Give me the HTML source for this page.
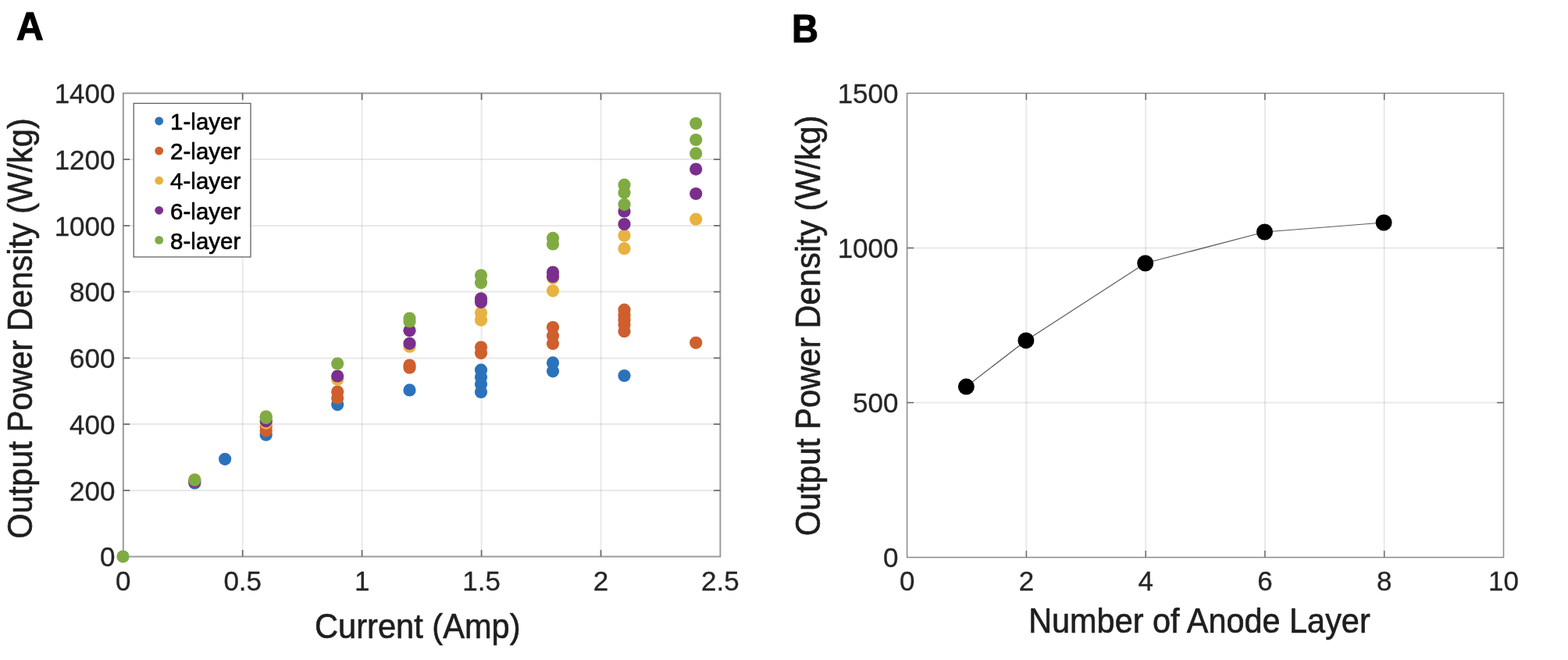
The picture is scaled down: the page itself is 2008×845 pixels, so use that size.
<!DOCTYPE html>
<html lang="en">
<head>
<meta charset="utf-8">
<title>Output power density figure</title>
<style>
html,body{margin:0;padding:0;background:#fff;}
body{width:2008px;height:845px;overflow:hidden;}
svg{display:block;}
text{font-family:"Liberation Sans",Arial,Helvetica,sans-serif;}
.tick{font-size:35px;fill:#262626;stroke:#262626;stroke-width:0.3px;}
.lab{font-size:41.6px;fill:#1e1e1e;stroke:#1e1e1e;stroke-width:0.6px;}
.leg{font-size:29.5px;fill:#000;stroke:#000;stroke-width:0.6px;}
.panel{font-size:50px;font-weight:bold;fill:#000;stroke:#000;stroke-width:1.2px;}
.grid line{stroke:#000;stroke-opacity:0.085;stroke-width:2;}
.axA{stroke:#979797;stroke-width:1.9;fill:none;}
.axB{stroke:#8a8a8a;stroke-width:1.5;fill:none;}
.tkA line{stroke:#6a6a6a;stroke-width:1.7;}
.tkB line{stroke:#6a6a6a;stroke-width:1.5;}
</style>
</head>
<body>
<svg width="2008" height="845" viewBox="0 0 2008 845">
<rect x="0" y="0" width="2008" height="845" fill="#ffffff"/>

<g class="grid">
<line x1="310.7" y1="119.4" x2="310.7" y2="712.6"/>
<line x1="463.6" y1="119.4" x2="463.6" y2="712.6"/>
<line x1="616.6" y1="119.4" x2="616.6" y2="712.6"/>
<line x1="769.5" y1="119.4" x2="769.5" y2="712.6"/>
<line x1="157.8" y1="627.9" x2="922.4" y2="627.9"/>
<line x1="157.8" y1="543.1" x2="922.4" y2="543.1"/>
<line x1="157.8" y1="458.4" x2="922.4" y2="458.4"/>
<line x1="157.8" y1="373.6" x2="922.4" y2="373.6"/>
<line x1="157.8" y1="288.9" x2="922.4" y2="288.9"/>
<line x1="157.8" y1="204.1" x2="922.4" y2="204.1"/>
</g>
<rect class="axA" x="157.8" y="119.4" width="764.6" height="593.2"/>
<g class="tkA">
<line x1="310.7" y1="712.6" x2="310.7" y2="704.1"/>
<line x1="310.7" y1="119.4" x2="310.7" y2="127.9"/>
<line x1="463.6" y1="712.6" x2="463.6" y2="704.1"/>
<line x1="463.6" y1="119.4" x2="463.6" y2="127.9"/>
<line x1="616.6" y1="712.6" x2="616.6" y2="704.1"/>
<line x1="616.6" y1="119.4" x2="616.6" y2="127.9"/>
<line x1="769.5" y1="712.6" x2="769.5" y2="704.1"/>
<line x1="769.5" y1="119.4" x2="769.5" y2="127.9"/>
<line x1="157.8" y1="627.9" x2="166.3" y2="627.9"/>
<line x1="922.4" y1="627.9" x2="913.9" y2="627.9"/>
<line x1="157.8" y1="543.1" x2="166.3" y2="543.1"/>
<line x1="922.4" y1="543.1" x2="913.9" y2="543.1"/>
<line x1="157.8" y1="458.4" x2="166.3" y2="458.4"/>
<line x1="922.4" y1="458.4" x2="913.9" y2="458.4"/>
<line x1="157.8" y1="373.6" x2="166.3" y2="373.6"/>
<line x1="922.4" y1="373.6" x2="913.9" y2="373.6"/>
<line x1="157.8" y1="288.9" x2="166.3" y2="288.9"/>
<line x1="922.4" y1="288.9" x2="913.9" y2="288.9"/>
<line x1="157.8" y1="204.1" x2="166.3" y2="204.1"/>
<line x1="922.4" y1="204.1" x2="913.9" y2="204.1"/>
</g>
<text class="tick" text-anchor="end" transform="translate(147.5,725.3) scale(1,1.015)">0</text>
<text class="tick" text-anchor="end" transform="translate(147.5,640.6) scale(1,1.015)">200</text>
<text class="tick" text-anchor="end" transform="translate(147.5,555.8) scale(1,1.015)">400</text>
<text class="tick" text-anchor="end" transform="translate(147.5,471.1) scale(1,1.015)">600</text>
<text class="tick" text-anchor="end" transform="translate(147.5,386.3) scale(1,1.015)">800</text>
<text class="tick" text-anchor="end" transform="translate(147.5,301.6) scale(1,1.015)">1000</text>
<text class="tick" text-anchor="end" transform="translate(147.5,216.8) scale(1,1.015)">1200</text>
<text class="tick" text-anchor="end" transform="translate(147.5,132.1) scale(1,1.015)">1400</text>
<text class="tick" text-anchor="middle" transform="translate(157.8,756.0) scale(1,1.015)">0</text>
<text class="tick" text-anchor="middle" transform="translate(310.7,756.0) scale(1,1.015)">0.5</text>
<text class="tick" text-anchor="middle" transform="translate(463.6,756.0) scale(1,1.015)">1</text>
<text class="tick" text-anchor="middle" transform="translate(616.6,756.0) scale(1,1.015)">1.5</text>
<text class="tick" text-anchor="middle" transform="translate(769.5,756.0) scale(1,1.015)">2</text>
<text class="tick" text-anchor="middle" transform="translate(922.4,756.0) scale(1,1.015)">2.5</text>
<text class="lab" text-anchor="middle" transform="translate(534.8,817) scale(1,1.05)">Current (Amp)</text>
<text class="lab" text-anchor="middle" transform="translate(40.6,420.5) rotate(-90) scale(1,1.05)">Output Power Density (W/kg)</text>
<g fill="#2b72bd">
<circle cx="157.5" cy="712.6" r="7.4"/>
<circle cx="249.3" cy="618.4" r="8.1"/>
<circle cx="288.1" cy="587.8" r="8.1"/>
<circle cx="340.7" cy="556.7" r="8.1"/>
<circle cx="432.2" cy="518.1" r="8.1"/>
<circle cx="524.5" cy="499.4" r="8.1"/>
<circle cx="616" cy="473.7" r="8.1"/>
<circle cx="616" cy="483" r="8.1"/>
<circle cx="616" cy="492" r="8.1"/>
<circle cx="616" cy="502" r="8.1"/>
<circle cx="708" cy="464.4" r="8.1"/>
<circle cx="708" cy="475.3" r="8.1"/>
<circle cx="799.5" cy="481" r="8.1"/>
</g>
<g fill="#cf5f2d">
<circle cx="157.5" cy="712.6" r="7.4"/>
<circle cx="249.3" cy="616.5" r="8.1"/>
<circle cx="340.7" cy="546" r="8.1"/>
<circle cx="340.7" cy="551.3" r="8.1"/>
<circle cx="432.2" cy="501.6" r="8.1"/>
<circle cx="432.2" cy="509.5" r="8.1"/>
<circle cx="524.5" cy="467.6" r="8.1"/>
<circle cx="524.5" cy="470.7" r="8.1"/>
<circle cx="616" cy="444.5" r="8.1"/>
<circle cx="616" cy="452.1" r="8.1"/>
<circle cx="708" cy="419" r="8.1"/>
<circle cx="708" cy="430" r="8.1"/>
<circle cx="708" cy="440" r="8.1"/>
<circle cx="799.5" cy="396.7" r="8.1"/>
<circle cx="799.5" cy="403.7" r="8.1"/>
<circle cx="799.5" cy="409.7" r="8.1"/>
<circle cx="799.5" cy="415.5" r="8.1"/>
<circle cx="799.5" cy="424.2" r="8.1"/>
<circle cx="891.2" cy="438.8" r="8.1"/>
</g>
<g fill="#e8b240">
<circle cx="157.5" cy="712.6" r="7.4"/>
<circle cx="249.3" cy="614.0" r="8.1"/>
<circle cx="340.7" cy="541.6" r="8.1"/>
<circle cx="432.2" cy="485.8" r="8.1"/>
<circle cx="524.5" cy="443.7" r="8.1"/>
<circle cx="616" cy="400.5" r="8.1"/>
<circle cx="616" cy="409.8" r="8.1"/>
<circle cx="708" cy="356" r="8.1"/>
<circle cx="708" cy="372.3" r="8.1"/>
<circle cx="799.5" cy="301.6" r="8.1"/>
<circle cx="799.5" cy="318.2" r="8.1"/>
<circle cx="891.2" cy="280.7" r="8.1"/>
</g>
<g fill="#7a2f8e">
<circle cx="157.5" cy="712.6" r="7.4"/>
<circle cx="249.3" cy="616.6" r="8.1"/>
<circle cx="340.7" cy="539.1" r="8.1"/>
<circle cx="432.2" cy="481.5" r="8.1"/>
<circle cx="524.5" cy="423.3" r="8.1"/>
<circle cx="524.5" cy="439.8" r="8.1"/>
<circle cx="616" cy="382.3" r="8.1"/>
<circle cx="616" cy="386.8" r="8.1"/>
<circle cx="708" cy="348.5" r="8.1"/>
<circle cx="708" cy="354" r="8.1"/>
<circle cx="799.5" cy="270.5" r="8.1"/>
<circle cx="799.5" cy="287" r="8.1"/>
<circle cx="891.2" cy="216.6" r="8.1"/>
<circle cx="891.2" cy="248" r="8.1"/>
</g>
<g fill="#80ab43">
<circle cx="157.5" cy="712.6" r="8.1"/>
<circle cx="249.3" cy="614.6" r="8.1"/>
<circle cx="340.7" cy="533.3" r="8.1"/>
<circle cx="340.7" cy="535.0" r="8.1"/>
<circle cx="432.2" cy="465.5" r="8.1"/>
<circle cx="524.5" cy="407.6" r="8.1"/>
<circle cx="524.5" cy="411.5" r="8.1"/>
<circle cx="616" cy="352.6" r="8.1"/>
<circle cx="616" cy="362" r="8.1"/>
<circle cx="708" cy="304.9" r="8.1"/>
<circle cx="708" cy="312.4" r="8.1"/>
<circle cx="799.5" cy="236.7" r="8.1"/>
<circle cx="799.5" cy="246.5" r="8.1"/>
<circle cx="799.5" cy="261.8" r="8.1"/>
<circle cx="891.2" cy="158.0" r="8.1"/>
<circle cx="891.2" cy="179" r="8.1"/>
<circle cx="891.2" cy="196.4" r="8.1"/>
</g>
<rect x="171.2" y="132.3" width="149.8" height="196.7" fill="#ffffff" stroke="#555555" stroke-width="1.2"/>
<circle cx="203.7" cy="155.0" r="5.4" fill="#2b72bd"/>
<text class="leg" transform="translate(218.1,166.2) scale(1,1.03)">1-layer</text>
<circle cx="203.7" cy="193.1" r="5.4" fill="#cf5f2d"/>
<text class="leg" transform="translate(218.1,204.3) scale(1,1.03)">2-layer</text>
<circle cx="203.7" cy="231.2" r="5.4" fill="#e8b240"/>
<text class="leg" transform="translate(218.1,242.4) scale(1,1.03)">4-layer</text>
<circle cx="203.7" cy="269.3" r="5.4" fill="#7a2f8e"/>
<text class="leg" transform="translate(218.1,280.5) scale(1,1.03)">6-layer</text>
<circle cx="203.7" cy="307.4" r="5.4" fill="#80ab43"/>
<text class="leg" transform="translate(218.1,318.6) scale(1,1.03)">8-layer</text>
<text class="panel" transform="translate(21.1,50.8) scale(0.96,1)">A</text>
<g class="grid">
<line x1="1314.4" y1="119.4" x2="1314.4" y2="713.6"/>
<line x1="1467.2" y1="119.4" x2="1467.2" y2="713.6"/>
<line x1="1619.9" y1="119.4" x2="1619.9" y2="713.6"/>
<line x1="1772.7" y1="119.4" x2="1772.7" y2="713.6"/>
<line x1="1161.6" y1="515.5" x2="1925.5" y2="515.5"/>
<line x1="1161.6" y1="317.5" x2="1925.5" y2="317.5"/>
</g>
<rect class="axB" x="1161.6" y="119.4" width="763.9" height="594.2"/>
<g class="tkB">
<line x1="1314.4" y1="713.6" x2="1314.4" y2="705.1"/>
<line x1="1314.4" y1="119.4" x2="1314.4" y2="127.9"/>
<line x1="1467.2" y1="713.6" x2="1467.2" y2="705.1"/>
<line x1="1467.2" y1="119.4" x2="1467.2" y2="127.9"/>
<line x1="1619.9" y1="713.6" x2="1619.9" y2="705.1"/>
<line x1="1619.9" y1="119.4" x2="1619.9" y2="127.9"/>
<line x1="1772.7" y1="713.6" x2="1772.7" y2="705.1"/>
<line x1="1772.7" y1="119.4" x2="1772.7" y2="127.9"/>
<line x1="1161.6" y1="515.5" x2="1170.1" y2="515.5"/>
<line x1="1925.5" y1="515.5" x2="1917.0" y2="515.5"/>
<line x1="1161.6" y1="317.5" x2="1170.1" y2="317.5"/>
<line x1="1925.5" y1="317.5" x2="1917.0" y2="317.5"/>
</g>
<text class="tick" text-anchor="end" transform="translate(1150.5,726.3) scale(1,1.015)">0</text>
<text class="tick" text-anchor="end" transform="translate(1150.5,528.2) scale(1,1.015)">500</text>
<text class="tick" text-anchor="end" transform="translate(1150.5,330.2) scale(1,1.015)">1000</text>
<text class="tick" text-anchor="end" transform="translate(1150.5,132.1) scale(1,1.015)">1500</text>
<text class="tick" text-anchor="middle" transform="translate(1161.6,756.4) scale(1,1.015)">0</text>
<text class="tick" text-anchor="middle" transform="translate(1314.4,756.4) scale(1,1.015)">2</text>
<text class="tick" text-anchor="middle" transform="translate(1467.2,756.4) scale(1,1.015)">4</text>
<text class="tick" text-anchor="middle" transform="translate(1619.9,756.4) scale(1,1.015)">6</text>
<text class="tick" text-anchor="middle" transform="translate(1772.7,756.4) scale(1,1.015)">8</text>
<text class="tick" text-anchor="middle" transform="translate(1925.5,756.4) scale(1,1.015)">10</text>
<text class="lab" text-anchor="middle" transform="translate(1535.9,809.7) scale(0.996,1.05)">Number of Anode Layer</text>
<text class="lab" text-anchor="middle" transform="translate(1049.5,417) rotate(-90) scale(1,1.05)">Output Power Density (W/kg)</text>
<polyline fill="none" stroke="#5c5c5c" stroke-width="1.25" points="1237.4,495.1 1313.9,435.9 1466.7,337.0 1619.5,297.0 1772.1,285.0"/>
<g fill="#000000">
<circle cx="1237.4" cy="495.1" r="10.5"/>
<circle cx="1313.9" cy="435.9" r="10.5"/>
<circle cx="1466.7" cy="337.0" r="10.5"/>
<circle cx="1619.5" cy="297.0" r="10.5"/>
<circle cx="1772.1" cy="285.0" r="10.5"/>
</g>
<text class="panel" transform="translate(1014.0,54.1) scale(0.94,1)">B</text>
</svg>
</body>
</html>
